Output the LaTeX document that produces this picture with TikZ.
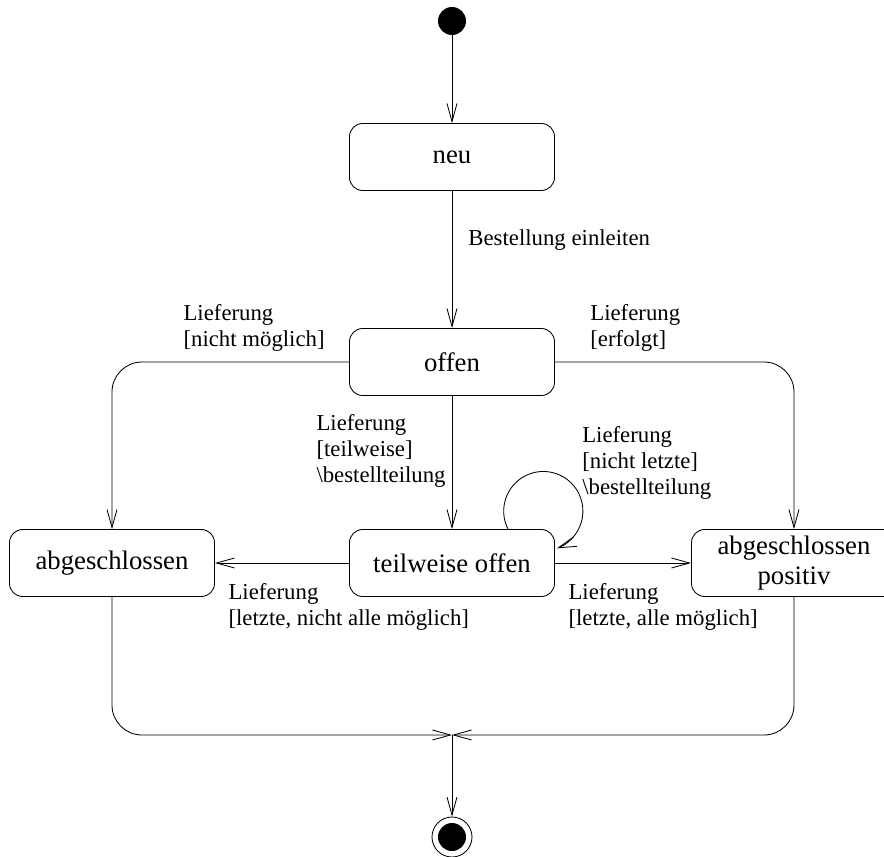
\documentclass[tikz,border=0pt]{standalone}
\usepackage{fontspec}
\setmainfont{Liberation Serif}
\usetikzlibrary{positioning,arrows.meta}

\begin{document}
\begin{tikzpicture}[
  x=0.025cm, y=-0.025cm,
  zustand/.style={draw, rounded corners=0.33cm, align=center, minimum width=5.125cm, minimum height=1.675cm, inner sep=2pt, line width=0.6pt, font=\fontsize{19}{21.3}\selectfont},
  startpunkt/.style={circle, fill=black, minimum size=0.7cm, inner sep=0pt},
  endpunkt/.style={circle, draw, fill=white, minimum size=1cm, inner sep=0pt, line width=0.6pt},
  lbl/.style={align=left, inner sep=0pt, font=\fontsize{16.2}{18.5}\selectfont},
  arr/.style={-{Straight Barb[length=0.45cm, width=0.25cm]}, line width=0.6pt},
  wire/.style={arr, rounded corners=0.75cm},
]
\useasboundingbox (0,0) rectangle (884,857);
\clip (0,0) rectangle (884,857);
% ================= ZUSTAENDE =================
\node[startpunkt] (start) at (452,21) {};
\node[zustand] (neu) at (452,157) {neu};
\node[zustand] (offen) at (452,362) {offen};
\node[zustand] (teil) at (452,563) {teilweise offen};
\node[zustand] (abg) at (112,563) {abgeschlossen};
\node[zustand] (abgpos) at (794,563) {abgeschlossen\\positiv};
\node[endpunkt] (ende) at (452,837) {};
\fill[black] (ende.center) circle[radius=0.35cm];
\coordinate (merge) at (452,735);
% ================= UEBERGAENGE =================
\draw[arr] (start) -- (neu);
\draw[arr] (neu) -- node[lbl, pos=0.36, right=0.4cm] {Bestellung einleiten} (offen);
\draw[wire] (offen.west) -| node[lbl, pos=0, above left=0.25cm and 0.6cm] {Lieferung\\{}[nicht möglich]} (abg.north);
\draw[wire] (offen.east) -| node[lbl, pos=0, above right=0.25cm and 0.875cm] {Lieferung\\{}[erfolgt]} (abgpos.north);
\draw[arr] (offen) -- node[lbl, pos=0.41, left=0.15cm] {Lieferung\\{}[teilweise]\\\textbackslash bestellteilung} (teil);
\draw[arr] (teil) -- node[lbl, pos=1, below right=0.5cm and 0.33cm] {Lieferung\\{}[letzte, nicht alle möglich]} (abg);
\draw[arr] (teil) -- node[lbl, pos=0, below right=0.5cm and 0.33cm] {Lieferung\\{}[letzte, alle möglich]} (abgpos);
% Selbstschleife
\draw[arr] ([xshift=1.4cm]teil.north) arc[start angle=207, end angle=-70, radius=0.99cm];
\node[lbl, anchor=west] (schleife) at (582,463) {Lieferung\\{}[nicht letzte]\\\textbackslash bestellteilung};
% ================= ENDE =================
\draw[wire] (abg.south) |- (merge);
\draw[wire] (abgpos.south) |- (merge);
\draw[arr] (merge) -- (ende);
\end{tikzpicture}
\end{document}
